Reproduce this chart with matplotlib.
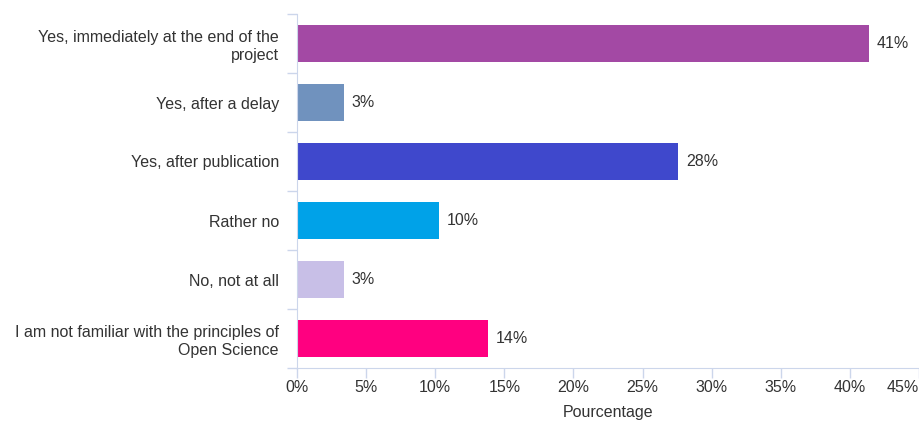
import matplotlib.pyplot as plt
import numpy as np

categories = ['Yes, immediately at the end of the\nproject',
              'Yes, after a delay',
              'Yes, after publication',
              'Rather no',
              'No, not at all',
              'I am not familiar with the principles of\nOpen Science']
values = [41.4, 3.4, 27.6, 10.3, 3.4, 13.8]
value_labels = ['41%', '3%', '28%', '10%', '3%', '14%']
colors = ['#A349A4', '#7092BE', '#3F48CC', '#00A2E8', '#C8BFE7', '#FF0080']
x_ticks = [0, 5, 10, 15, 20, 25, 30, 35, 40, 45]
x_ticklabels = ['0%', '5%', '10%', '15%', '20%', '25%', '30%', '35%', '40%', '45%']

plt.rcParams['font.family'] = ['Liberation Sans', 'DejaVu Sans']

fig = plt.figure(figsize=(9.2, 4.23), dpi=100)
ax = fig.add_axes([297 / 920, 1 - 368 / 423, 622 / 920, 354 / 423])

y = np.arange(len(categories))
ax.barh(y, values, height=0.63, color=colors, zorder=2)

# value labels just right of each bar
for yi, v, lab in zip(y, values, value_labels):
    ax.annotate(lab, xy=(v, yi), xytext=(5.5, 0), textcoords='offset points',
                va='center', ha='left', fontsize=11.5, color='#333333')

ax.set_xlim(0, 45)
ax.set_ylim(5.5, -0.5)

ax.set_xticks(x_ticks)
ax.set_xticklabels(x_ticklabels)
ax.get_xticklabels()[-1].set_ha('right')

ax.set_yticks(y)
ax.set_yticklabels(categories, fontsize=11.5, color='#333333', linespacing=1.25)
ax.set_yticks(np.arange(-0.5, len(categories)), minor=True)

line_col = '#ccd6eb'
for s in ['top', 'right']:
    ax.spines[s].set_visible(False)
ax.spines['left'].set_color(line_col)
ax.spines['bottom'].set_color(line_col)

ax.tick_params(axis='y', which='major', length=0, pad=13)
ax.tick_params(axis='y', which='minor', length=7.5, color=line_col, width=1)
ax.tick_params(axis='x', length=7.5, color=line_col, width=1, labelsize=11.5,
               labelcolor='#333333', pad=1)

ax.set_xlabel('Pourcentage', fontsize=11.5, color='#333333', labelpad=7)

fig.savefig('out.png', dpi=100, facecolor='white')
